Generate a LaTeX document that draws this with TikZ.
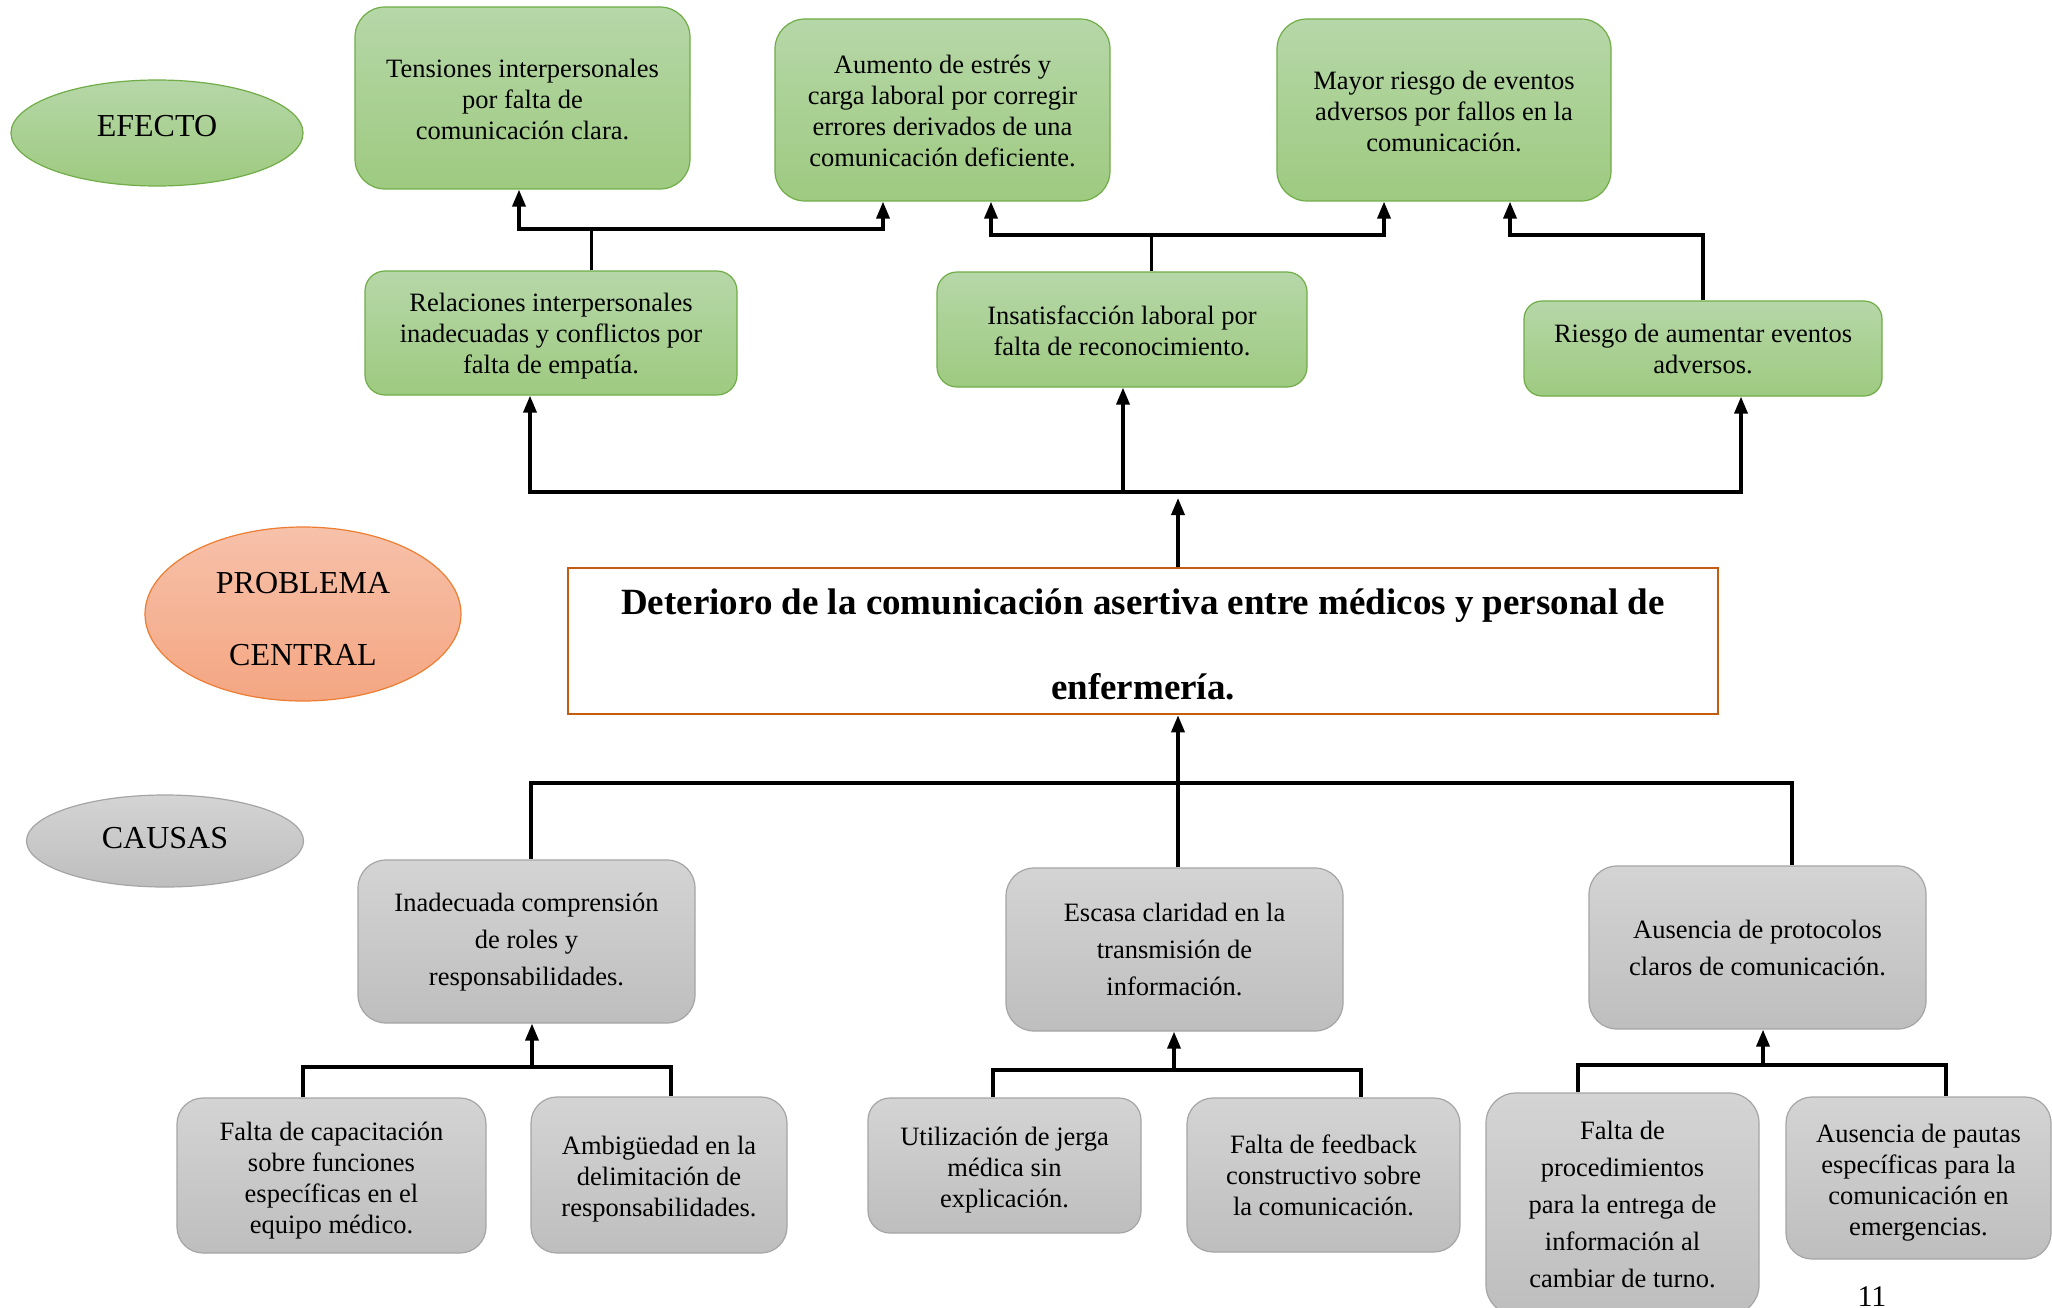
\documentclass[tikz,border=0pt]{standalone}
\usepackage{fontspec}
\setmainfont{Liberation Serif}
\usetikzlibrary{arrows.meta,shapes.geometric}
\definecolor{greenT}{RGB}{182,215,168}
\definecolor{greenB}{RGB}{158,202,128}
\definecolor{greenD}{RGB}{112,173,71}
\definecolor{grayT}{RGB}{212,212,212}
\definecolor{grayB}{RGB}{190,190,190}
\definecolor{grayD}{RGB}{165,165,165}
\definecolor{salT}{RGB}{247,193,170}
\definecolor{salB}{RGB}{244,166,130}
\definecolor{salD}{RGB}{237,125,49}
\definecolor{probD}{RGB}{197,90,17}
\newcommand\tup[1]{\rule{0pt}{#1pt}}
\tikzset{
  boxtxt/.style={font=\fontsize{26.5}{31}\selectfont, align=center, inner sep=0pt},
  boxtxtw/.style={font=\fontsize{26.5}{37}\selectfont, align=center, inner sep=0pt},
  greenbox/.style={boxtxt, rectangle, draw=greenD, line width=1.2pt, top color=greenT, bottom color=greenB},
  graybox/.style={boxtxt, rectangle, draw=grayD, line width=1.2pt, top color=grayT, bottom color=grayB},
  lbl/.style={ellipse, inner sep=0pt, line width=1.2pt, font=\fontsize{32}{72}\selectfont, align=center},
  bus/.style={line width=3.5pt, line join=miter},
  stem/.style={line width=3pt},
  arr/.style={bus, -{Triangle[length=17pt,width=13pt]}},
  darr/.style={bus, {Triangle[length=17pt,width=13pt]}-{Triangle[length=17pt,width=13pt]}},
}
\begin{document}
\begin{tikzpicture}[x=1pt,y=-1pt]
\useasboundingbox (0,0) rectangle (2052,1308);
\fill[white] (0,0) rectangle (2052,1308);

% label ellipses
\node[lbl, draw=greenD, top color=greenT, bottom color=greenB, minimum width=292, minimum height=106] (efecto) at (157,133) {};
\node[font=\fontsize{32}{36}\selectfont] (efectot) at (157,126) {EFECTO};
\node[lbl, draw=salD, top color=salT, bottom color=salB, minimum width=316, minimum height=174] (problema) at (303,614) {};
\node[font=\fontsize{32}{36}\selectfont] (probt1) at (303,583) {PROBLEMA};
\node[font=\fontsize{32}{36}\selectfont] (probt2) at (303,655) {CENTRAL};
\node[lbl, draw=grayD, top color=grayT, bottom color=grayB, minimum width=277, minimum height=92] (causas) at (165,841) {};
\node[font=\fontsize{32}{36}\selectfont] (causast) at (165,838) {CAUSAS};

% effects top row
\node[greenbox, rounded corners=30, minimum width=335, minimum height=182] (T1) at (522.5,98)
  {\tup{20.6}Tensiones interpersonales\\por falta de\\comunicación clara.};
\node[greenbox, rounded corners=30, minimum width=335, minimum height=182] (T2) at (942.5,110)
  {\tup{20.6}Aumento de estrés y\\carga laboral por corregir\\errores derivados de una\\comunicación deficiente.};
\node[greenbox, rounded corners=30, minimum width=334, minimum height=182] (T3) at (1444,110)
  {\tup{20.6}Mayor riesgo de eventos\\adversos por fallos en la\\comunicación.};

% effects second row
\node[greenbox, rounded corners=20, minimum width=372, minimum height=124] (M1) at (551,333)
  {\tup{24}Relaciones interpersonales\\inadecuadas y conflictos por\\falta de empatía.};
\node[greenbox, rounded corners=20, minimum width=370, minimum height=115] (M2) at (1122,329.5)
  {\tup{20.6}Insatisfacción laboral por\\falta de reconocimiento.};
\node[greenbox, rounded corners=18, minimum width=358, minimum height=95] (M3) at (1703,348.5)
  {Riesgo de aumentar eventos\\adversos.};

% central problem
\node[rectangle, draw=probD, line width=2.5pt, fill=white, minimum width=1150, minimum height=146,
  inner sep=0pt, align=center, font=\bfseries\fontsize{37}{85}\selectfont] (P) at (1143,641)
  {\tup{33}Deterioro de la comunicación asertiva entre médicos y personal de\\enfermería.};

% causes
\node[graybox, boxtxtw, rounded corners=28, minimum width=337, minimum height=163] (C1) at (526.5,941.5)
  {\tup{20.6}Inadecuada comprensión\\de roles y\\responsabilidades.};
\node[graybox, boxtxtw, rounded corners=28, minimum width=337, minimum height=163] (C2) at (1174.5,949.5)
  {Escasa claridad en la\\transmisión de\\información.};
\node[graybox, boxtxtw, rounded corners=28, minimum width=337, minimum height=163] (C3) at (1757.5,947.5)
  {Ausencia de protocolos\\claros de comunicación.};

% sub-causes
\node[graybox, rounded corners=26, minimum width=309, minimum height=155] (S1) at (331.5,1175.5)
  {\tup{29}Falta de capacitación\\sobre funciones\\específicas en el\\equipo médico.};
\node[graybox, rounded corners=26, minimum width=256, minimum height=156] (S2) at (659,1175)
  {\tup{26}Ambigüedad en la\\delimitación de\\responsabilidades.};
\node[graybox, rounded corners=22, minimum width=273, minimum height=135] (S3) at (1004.5,1165.5)
  {\tup{28}Utilización de jerga\\médica sin\\explicación.};
\node[graybox, rounded corners=26, minimum width=273, minimum height=154] (S4) at (1323.5,1175)
  {Falta de feedback\\constructivo sobre\\la comunicación.};
\node[graybox, boxtxtw, rounded corners=30, minimum width=273, minimum height=222] (S5) at (1622.5,1204)
  {Falta de\\procedimientos\\para la entrega de\\información al\\cambiar de turno.};
\node[graybox, rounded corners=26, minimum width=265, minimum height=162] (S6) at (1918.5,1178)
  {\tup{28}Ausencia de pautas\\específicas para la\\comunicación en\\emergencias.};

\node[font=\fontsize{30}{34}\selectfont] (pg) at (1872,1297) {11};

% --- connectors top level
\coordinate (j1) at (591,229);
\coordinate (j1L) at (519,229);
\coordinate (j1R) at (883,229);
\draw[stem] (M1.north -| j1) -- (j1);
\draw[darr] (T1.south -| j1L) -- (j1L) -- (j1R) -- (T2.south -| j1R);

\coordinate (j2) at (1151,235);
\coordinate (j2L) at (991,235);
\coordinate (j2R) at (1384,235);
\draw[stem] (M2.north -| j2) -- (j2);
\draw[darr] (T2.south -| j2L) -- (j2L) -- (j2R) -- (T3.south -| j2R);

\coordinate (j3) at (1703,235);
\coordinate (j3L) at (1510,235);
\draw[arr] (M3.north) -- (j3) -- (j3L) -- (T3.south -| j3L);

% --- connectors problem to effects
\coordinate (k1) at (530,492);
\coordinate (k2) at (1123,492);
\coordinate (k3) at (1741,492);
\coordinate (kp) at (1178,498);
\draw[darr] (M1.south -| k1) -- (k1) -- (k3) -- (M3.south -| k3);
\draw[arr] (k2) -- (M2.south -| k2);
\draw[arr] (P.north -| kp) -- (kp);

% --- causes to problem
\coordinate (q1) at (531,783);
\coordinate (q3) at (1792,783);
\coordinate (qc) at (1178,783);
\draw[bus] (C1.north -| q1) -- (q1) -- (q3) -- (C3.north -| q3);
\draw[arr] (C2.north -| qc) -- (P.south -| qc);

% --- sub-causes
\coordinate (g1L) at (303,1067);
\coordinate (g1R) at (671,1067);
\coordinate (g1) at (532,1067);
\draw[bus] (S1.north -| g1L) -- (g1L) -- (g1R) -- (S2.north -| g1R);
\draw[arr] (g1) -- (C1.south -| g1);

\coordinate (g2L) at (993,1070);
\coordinate (g2R) at (1361,1070);
\coordinate (g2) at (1174,1070);
\draw[bus] (S3.north -| g2L) -- (g2L) -- (g2R) -- (S4.north -| g2R);
\draw[arr] (g2) -- (C2.south -| g2);

\coordinate (g3L) at (1578,1065);
\coordinate (g3R) at (1946,1065);
\coordinate (g3) at (1763,1065);
\draw[bus] (S5.north -| g3L) -- (g3L) -- (g3R) -- (S6.north -| g3R);
\draw[arr] (g3) -- (C3.south -| g3);
\end{tikzpicture}
\end{document}
